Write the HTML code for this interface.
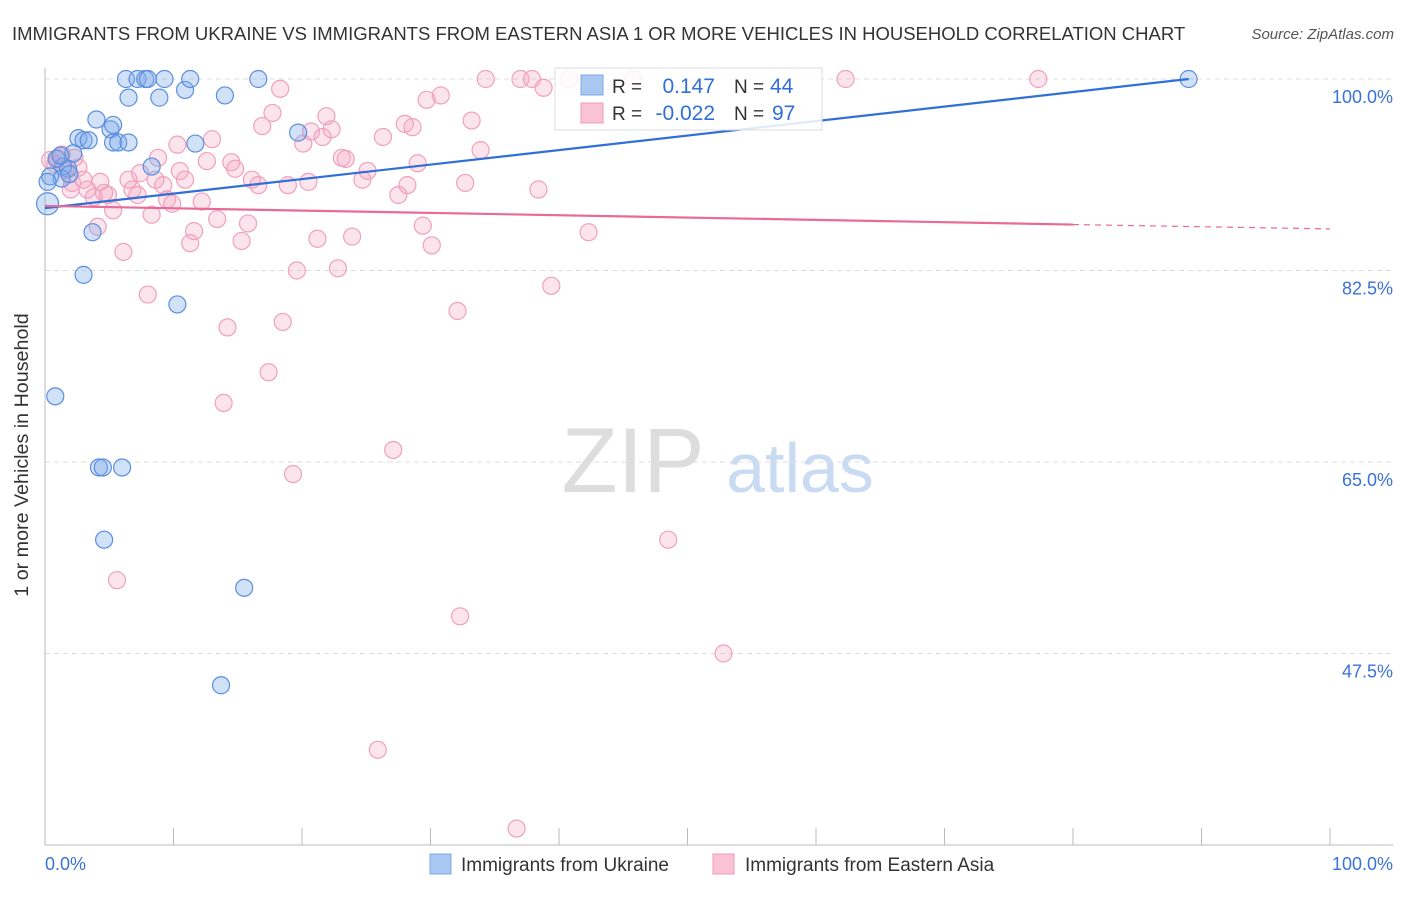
<!DOCTYPE html>
<html><head><meta charset="utf-8"><style>
body{margin:0;background:#fff;font-family:"Liberation Sans",sans-serif;}
svg text{font-family:"Liberation Sans",sans-serif;}
</style></head><body>
<svg id="c" width="1406" height="892" xmlns="http://www.w3.org/2000/svg">
<text x="12" y="40" font-size="18.5" fill="#333">IMMIGRANTS FROM UKRAINE VS IMMIGRANTS FROM EASTERN ASIA 1 OR MORE VEHICLES IN HOUSEHOLD CORRELATION CHART</text>
<text x="1394" y="39" font-size="15" fill="#555" font-style="italic" text-anchor="end">Source: ZipAtlas.com</text>
<text x="28" y="455" font-size="19.7" fill="#333" text-anchor="middle" transform="rotate(-90 28 455)">1 or more Vehicles in Household</text>
<text x="633" y="492" font-size="92" fill="#ddd" font-family="Liberation Serif" text-anchor="middle">ZIP</text>
<text x="800" y="492" font-size="70" fill="#c9daf3" text-anchor="middle">atlas</text>
<g id="grid"></g><g id="pts"></g><g id="lines"></g>
<g>
<rect x="555" y="68" width="267" height="62" fill="#fff" fill-opacity="0.85" stroke="#ddd"/>
<rect x="581" y="75" width="22" height="20" fill="#a9c7f0" stroke="#7aa8e8"/>
<rect x="581" y="103" width="22" height="20" fill="#f9c3d4" stroke="#f09ab8"/>
<text x="612" y="93" font-size="19" fill="#333">R =</text><text x="715" y="93" font-size="21" fill="#2f6fd6" text-anchor="end">0.147</text>
<text x="734" y="93" font-size="19" fill="#333">N =</text><text x="770" y="93" font-size="21" fill="#2f6fd6">44</text>
<text x="612" y="120" font-size="19" fill="#333">R =</text><text x="715" y="120" font-size="21" fill="#2f6fd6" text-anchor="end">-0.022</text>
<text x="734" y="120" font-size="19" fill="#333">N =</text><text x="772" y="120" font-size="21" fill="#2f6fd6">97</text>
</g>
<g>
<rect x="430" y="854" width="21" height="20" fill="#a9c7f0" stroke="#7aa8e8"/>
<text x="461" y="871" font-size="19" fill="#333">Immigrants from Ukraine</text>
<rect x="713" y="854" width="21" height="20" fill="#f9c3d4" stroke="#f09ab8"/>
<text x="745" y="871" font-size="19" fill="#333">Immigrants from Eastern Asia</text>
</g>
<text x="45" y="870" font-size="18" fill="#3a72d8">0.0%</text>
<text x="1393" y="870" font-size="18" fill="#3a72d8" text-anchor="end">100.0%</text>
</svg>
<script>
const yTicks=[100,82.5,65,47.5];
const yTickLabels=["100.0%","82.5%","65.0%","47.5%"];
const xTicks=[0,10,20,30,40,50,60,70,80,90,100];
const ukraineX=[0.2,0.4,0.8,1.4,1.8,2.2,2.6,3,3.4,3.7,3,4,4.2,4.5,4.6,5.1,5.3,5.3,5.7,6,6.3,6.5,6.5,7.2,7.8,8,8.3,8.9,9.3,10.3,10.9,11.3,11.7,13.7,14,15.5,16.6,19.7,89,0.9,1.2,1.3,1.9,0.2];
const ukraineY=[88.6,91.1,71,92,91.8,93.2,94.6,94.4,94.4,86,82.1,96.3,64.5,64.5,57.9,95.4,95.8,94.2,94.2,64.5,100,94.2,98.3,100,100,100,92,98.3,100,79.4,99,100,94.1,44.6,98.5,53.5,100,95.1,100,92.7,93,90.9,91.3,90.6];
const asiaX=[0.4,0.8,1,1.3,1.6,2,2.1,2.3,2.6,3,3.3,3.8,4.1,4.3,4.6,4.9,5.3,5.6,6.1,6.5,6.8,7.2,7.4,8,8.3,8.6,8.8,9.2,9.5,9.9,10.3,10.5,10.9,11.3,11.6,12.2,12.6,13,13.4,13.9,14.2,14.5,14.8,15.3,15.8,16.1,16.6,16.9,17.4,17.7,18.3,18.5,18.9,19.3,19.6,20.1,20.5,20.7,21.2,21.6,21.9,22.3,22.8,23.1,23.4,23.9,24.7,25.1,25.9,26.3,27.1,27.5,28,28.2,28.6,29,29.4,29.7,30.1,30.8,32.1,32.3,32.7,33.2,33.9,34.3,37,37.9,36.7,38.4,38.8,39.4,40.8,42.3,45.8,48.5,52.8,62.3,77.3]
const asiaY=[92.6,92.2,92.8,93.1,91.7,89.9,90.5,92.8,91.9,90.8,89.9,89.2,86.5,90.6,89.6,89.4,88,54.2,84.2,90.8,89.9,89.4,91.4,80.3,87.6,90.8,92.8,90.3,89,88.6,94,91.6,90.8,85,86.1,88.8,92.5,94.5,87.2,70.4,77.3,92.4,91.8,85.2,86.8,90.8,90.3,95.7,73.2,96.9,99.1,77.8,90.3,63.9,82.5,94.1,90.6,95.2,85.4,94.7,96.6,95.4,82.7,92.8,92.7,85.6,90.8,91.6,38.7,94.7,66.1,89.4,95.9,90.3,95.6,92.3,86.6,98.1,84.8,98.5,78.8,50.9,90.5,96.2,93.5,100,100,100,31.5,89.9,99.2,81.1,100,86,100,57.9,47.5,100,100,100]
const xMin=0,xMax=100,yMin=30,yMax=100;
const X0=45,X1=1330,Y0=845,Y1=79;
function xs(v){return X0+(v-xMin)/(xMax-xMin)*(X1-X0);}
function ys(v){return Y0-(v-yMin)/(yMax-yMin)*(Y0-Y1);}
const NS="http://www.w3.org/2000/svg";
function mk(t,a,p){const e=document.createElementNS(NS,t);for(const k in a)e.setAttribute(k,a[k]);p.appendChild(e);return e;}
const grid=document.getElementById('grid'),pts=document.getElementById('pts'),lines=document.getElementById('lines');
yTicks.forEach((v,i)=>{
 const l=mk('line',{x1:X0,x2:1393,y1:ys(v),y2:ys(v),stroke:'#ddd','stroke-dasharray':'5,4'},grid);
 
 
 const t=mk('text',{x:1393,y:ys(v)+24,'font-size':18,fill:'#3a72d8','text-anchor':'end'},grid);
 t.textContent=yTickLabels[i];
 
 
});
const ax=mk('line',{x1:X0,x2:1393,y1:Y0,y2:Y0,stroke:'#bbb'},grid);


const ay=mk('line',{x1:X0,x2:X0,y1:68,y2:Y0,stroke:'#bbb'},grid);


xTicks.forEach(v=>{
 const t=mk('line',{x1:xs(v),x2:xs(v),y1:Y0,y2:828,stroke:'#bbb'},grid);
 
 
});
asiaX.forEach((v,i)=>{
 const c=mk('circle',{cx:xs(v),cy:ys(asiaY[i]),r:8.5,fill:'#f4a6c0','fill-opacity':0.3,stroke:'#f0a0bd','stroke-width':1.2},pts);
 
 
});
ukraineX.forEach((v,i)=>{
 const c=mk('circle',{cx:xs(v),cy:ys(ukraineY[i]),r:i==0?11:8.5,fill:'#7aa8e8','fill-opacity':0.35,stroke:'#5b8ee0','stroke-width':1.2},pts);
 
 
});
const bl=mk('line',{x1:xs(0),y1:ys(88.2),x2:xs(89),y2:ys(100),stroke:'#2f6fd6','stroke-width':2.2},lines);


const pl=mk('line',{x1:xs(0),y1:ys(88.4),x2:xs(80),y2:ys(86.7),stroke:'#e86a98','stroke-width':2.2},lines);


const pd=mk('line',{x1:xs(80),y1:ys(86.7),x2:xs(100),y2:ys(86.3),stroke:'#e86a98','stroke-width':1.2,'stroke-dasharray':'6,5'},lines);


</script>
</body></html>
